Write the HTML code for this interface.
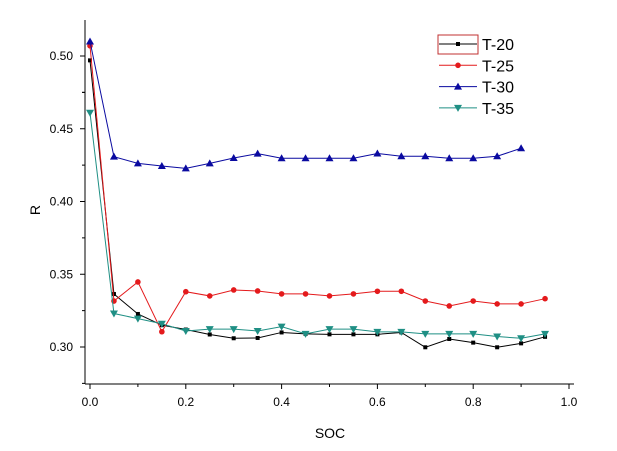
<!DOCTYPE html>
<html><head><meta charset="utf-8"><style>
body{margin:0;background:#fff;}
svg text{font-family:"Liberation Sans",Arial,sans-serif;}
</style></head><body>
<svg id="chart" width="617" height="446" xmlns="http://www.w3.org/2000/svg">
<g id="axes"></g><g id="series"></g><g id="legend"></g>
</svg>
<script>
const soc=[0,0.05,0.1,0.15,0.2,0.25,0.3,0.35,0.4,0.45,0.5,0.55,0.6,0.65,0.7,0.75,0.8,0.85,0.9,0.95];
const t20=[0.497,0.3364,0.3227,0.315,0.312,0.3086,0.306,0.3062,0.31,0.309,0.3087,0.3087,0.3087,0.31,0.2998,0.3055,0.303,0.2998,0.3025,0.307];
const t25=[0.507,0.3316,0.3447,0.3105,0.338,0.3351,0.3392,0.3385,0.3365,0.3365,0.3351,0.3365,0.3383,0.3383,0.3316,0.3282,0.3316,0.3296,0.3296,0.3332];
const t30=[0.51,0.4308,0.4262,0.4244,0.4228,0.4262,0.4299,0.4329,0.4297,0.4297,0.4297,0.4297,0.433,0.4311,0.4311,0.4297,0.4297,0.4311,0.4366];
const t35=[0.461,0.323,0.3195,0.316,0.311,0.3123,0.3123,0.311,0.314,0.309,0.3123,0.3123,0.3104,0.3104,0.309,0.309,0.309,0.3072,0.306,0.309];
const xTicks=[0,0.2,0.4,0.6,0.8,1.0];
const xTickLabels=["0.0","0.2","0.4","0.6","0.8","1.0"];
const yTicks=[0.30,0.35,0.40,0.45,0.50];
const yTickLabels=["0.30","0.35","0.40","0.45","0.50"];
const seriesNames=["T-20","T-25","T-30","T-35"];

const NS="http://www.w3.org/2000/svg";
const X0=85,X1=574,Y0=384,Y1=20;
const xs=v=>90+v*479;
const ys=v=>56+(0.5-v)*1455;
function mk(tag,attrs,parent){const e=document.createElementNS(NS,tag);for(const k in attrs)e.setAttribute(k,attrs[k]);parent.appendChild(e);return e;}
const ax=document.getElementById('axes');
let l=mk('line',{x1:X0,y1:Y1,x2:X0,y2:Y0,stroke:'#000','stroke-width':1},ax);


l=mk('line',{x1:X0,y1:Y0,x2:X1,y2:Y0,stroke:'#000','stroke-width':1},ax);


xTicks.forEach((v,i)=>{
  mk('line',{x1:xs(v),y1:Y0,x2:xs(v),y2:Y0+5,stroke:'#000'},ax);
  if(i<xTicks.length-1)mk('line',{x1:xs(v+0.1),y1:Y0,x2:xs(v+0.1),y2:Y0+3,stroke:'#000'},ax);
  const t=mk('text',{x:xs(v),y:Y0+22,'text-anchor':'middle','font-size':12,fill:'#000'},ax);
  t.textContent=xTickLabels[i];
  
  
});
yTicks.forEach((v,i)=>{
  mk('line',{x1:X0-5,y1:ys(v),x2:X0,y2:ys(v),stroke:'#000'},ax);
  mk('line',{x1:X0-3,y1:ys(v-0.025),x2:X0,y2:ys(v-0.025),stroke:'#000'},ax);
  const t=mk('text',{x:X0-12,y:ys(v)+4,'text-anchor':'end','font-size':12,fill:'#000'},ax);
  t.textContent=yTickLabels[i];
  
  
});
mk('line',{x1:X0-3,y1:ys(0.475),x2:X0,y2:ys(0.475),stroke:'#000'},ax);
let t=mk('text',{x:330,y:438,'text-anchor':'middle','font-size':14,fill:'#000'},ax);
t.textContent='SOC';


t=mk('text',{x:40,y:210,'text-anchor':'middle','font-size':14,fill:'#000',transform:'rotate(-90 40 210)'},ax);
t.textContent='R';



const colors=['#000000','#e41a1c','#0a0aa0','#1f8f84'];
const shapes=['sq','ci','up','dn'];
function marker(g,shape,x,y,c){
  if(shape==='sq')mk('rect',{x:x-2,y:y-2,width:4,height:4,fill:c},g);
  else if(shape==='ci')mk('circle',{cx:x,cy:y,r:2.8,fill:c},g);
  else if(shape==='up')mk('polygon',{points:`${x},${y-4} ${x-4},${y+3} ${x+4},${y+3}`,fill:c},g);
  else mk('polygon',{points:`${x},${y+4} ${x-4},${y-3} ${x+4},${y-3}`,fill:c},g);
}
const sg=document.getElementById('series');
[t20,t25,t30,t35].forEach((arr,si)=>{
  const g=mk('g',{},sg);
  
  
  const pts=arr.map((v,i)=>xs(soc[i])+','+ys(v)).join(' ');
  mk('polyline',{points:pts,fill:'none',stroke:colors[si],'stroke-width':1},g);
  arr.forEach((v,i)=>marker(g,shapes[si],xs(soc[i]),ys(v),colors[si]));
});
const lg=document.getElementById('legend');


mk('rect',{x:438,y:35,width:40,height:19,fill:'none',stroke:'#c03030','stroke-width':1},lg);
seriesNames.forEach((n,i)=>{
  const g=mk('g',{},lg);
  
  
  const y=44+i*21.3;
  mk('line',{x1:439,y1:y,x2:477,y2:y,stroke:colors[i]},g);
  marker(g,shapes[i],458,y,colors[i]);
  const tx=mk('text',{x:482,y:y+6,'font-size':16,fill:'#000'},g);
  tx.textContent=n;
});
</script>
</body></html>
